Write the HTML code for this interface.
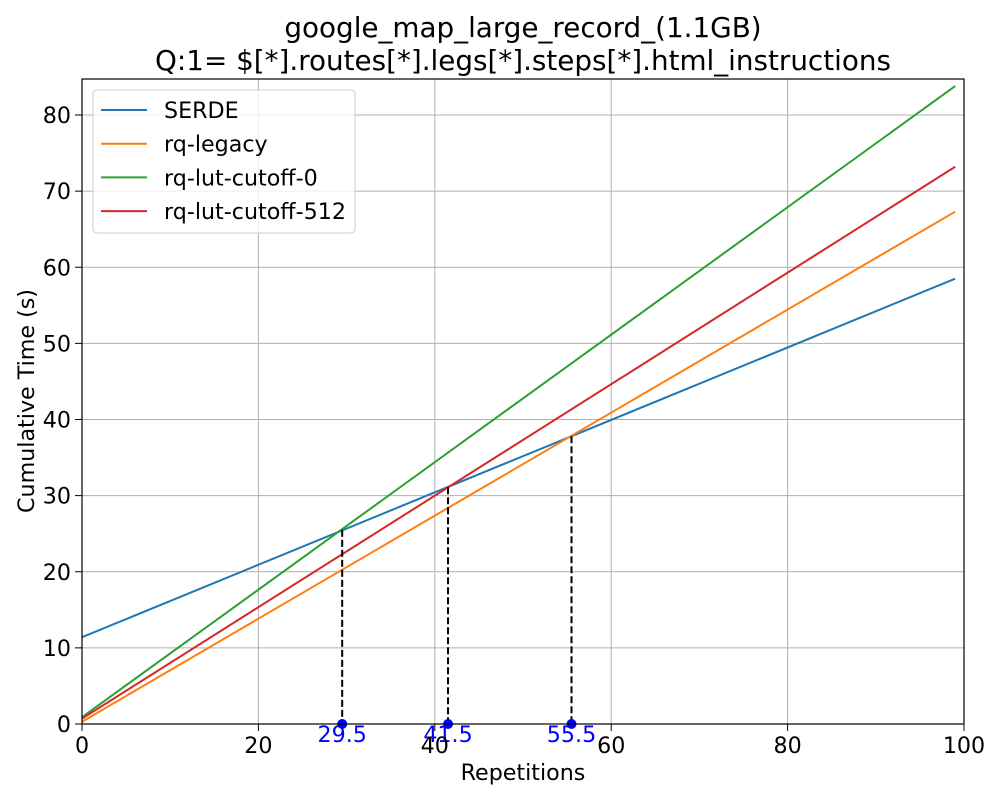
<!DOCTYPE html>
<html><head><meta charset="utf-8"><style>
body{margin:0;background:#fff}
svg text{font-family:"DejaVu Sans","Liberation Sans",sans-serif}
</style></head><body>
<svg id="chart" width="1000" height="800" xmlns="http://www.w3.org/2000/svg">
<rect width="1000" height="800" fill="#fff"/>
<text x="523" y="37" font-size="27.8" text-anchor="middle">google_map_large_record_(1.1GB)</text>
<text x="523" y="70" font-size="27.8" text-anchor="middle">Q:1= $[*].routes[*].legs[*].steps[*].html_instructions</text>
<g id="grid"></g>
<g id="series"></g>
<g id="marks"></g>
<rect x="82" y="79" width="882" height="645" fill="none" stroke="#000" stroke-width="1.2"/>
<g id="ticks"></g>
<text x="523" y="780" font-size="22.2" text-anchor="middle">Repetitions</text>
<text transform="translate(34,401) rotate(-90)" font-size="22.2" text-anchor="middle">Cumulative Time (s)</text>
<g id="legend"></g>
</svg>
<script>
const seriesNames = ["SERDE","rq-legacy","rq-lut-cutoff-0","rq-lut-cutoff-512"];
const seriesColors = ["#1f77b4","#ff7f0e","#2ca02c","#d62728"];
const xEnds = [0, 99];
const serdeVals = [11.4, 58.5];
const legacyVals = [0.3, 67.3];
const lut0Vals = [0.9, 83.8];
const lut512Vals = [0.7, 73.2];
const crossX = [29.5, 41.5, 55.5];
const crossY = [25.5, 31.1, 37.8];
const xTicks = [0,20,40,60,80,100];
const yTicks = [0,10,20,30,40,50,60,70,80];

const NS="http://www.w3.org/2000/svg";
const X=v=>82+v*8.82, Y=v=>724-v*7.6125;
function mk(tag,attrs,parent,txt){const e=document.createElementNS(NS,tag);for(const k in attrs)e.setAttribute(k,attrs[k]);if(txt!==undefined)e.textContent=txt;document.getElementById(parent).appendChild(e);return e;}

xTicks.forEach(t=>{
  let g=mk("line",{x1:X(t),x2:X(t),y1:79,y2:724,stroke:"#b0b0b0","stroke-width":1},"grid");
  
  
  let tk=mk("line",{x1:X(t),x2:X(t),y1:724,y2:731,stroke:"#000"},"ticks");
  
  
  let l=mk("text",{x:X(t),y:753,"font-size":22.2,"text-anchor":"middle"},"ticks",String(t));
  
  
});
yTicks.forEach(t=>{
  let g=mk("line",{x1:82,x2:964,y1:Y(t),y2:Y(t),stroke:"#b0b0b0","stroke-width":1},"grid");
  
  
  let tk=mk("line",{x1:75,x2:82,y1:Y(t),y2:Y(t),stroke:"#000"},"ticks");
  
  
  let l=mk("text",{x:71,y:Y(t)+8,"font-size":22.2,"text-anchor":"end"},"ticks",String(t));
  
  
});
[serdeVals,legacyVals,lut0Vals,lut512Vals].forEach((vals,i)=>{
  const pts=xEnds.map((x,j)=>X(x)+","+Y(vals[j])).join(" ");
  let p=mk("polyline",{points:pts,fill:"none",stroke:seriesColors[i],"stroke-width":2},"series");
  
  
});
crossX.forEach((x,i)=>{
  let d=mk("line",{x1:X(x),x2:X(x),y1:Y(crossY[i]),y2:Y(0),stroke:"#000","stroke-width":2,"stroke-dasharray":"7,3"},"marks");
  
  
  let c=mk("circle",{cx:X(x),cy:Y(0),r:5,fill:"blue"},"marks");
  
  
  let t=mk("text",{x:X(x),y:742,"font-size":22.2,"text-anchor":"middle",fill:"blue"},"marks",String(x));
  
  
});
let box=mk("rect",{x:93,y:90,width:262,height:143,rx:4,fill:"#fff","fill-opacity":0.8,stroke:"#ccc"},"legend");


seriesNames.forEach((n,i)=>{
  const y=110+i*33.7;
  let l=mk("line",{x1:101,x2:147,y1:y,y2:y,stroke:seriesColors[i],"stroke-width":2},"legend");
  
  
  let t=mk("text",{x:164,y:y+8,"font-size":22.2},"legend",n);
  
  
});
</script>
</body></html>
